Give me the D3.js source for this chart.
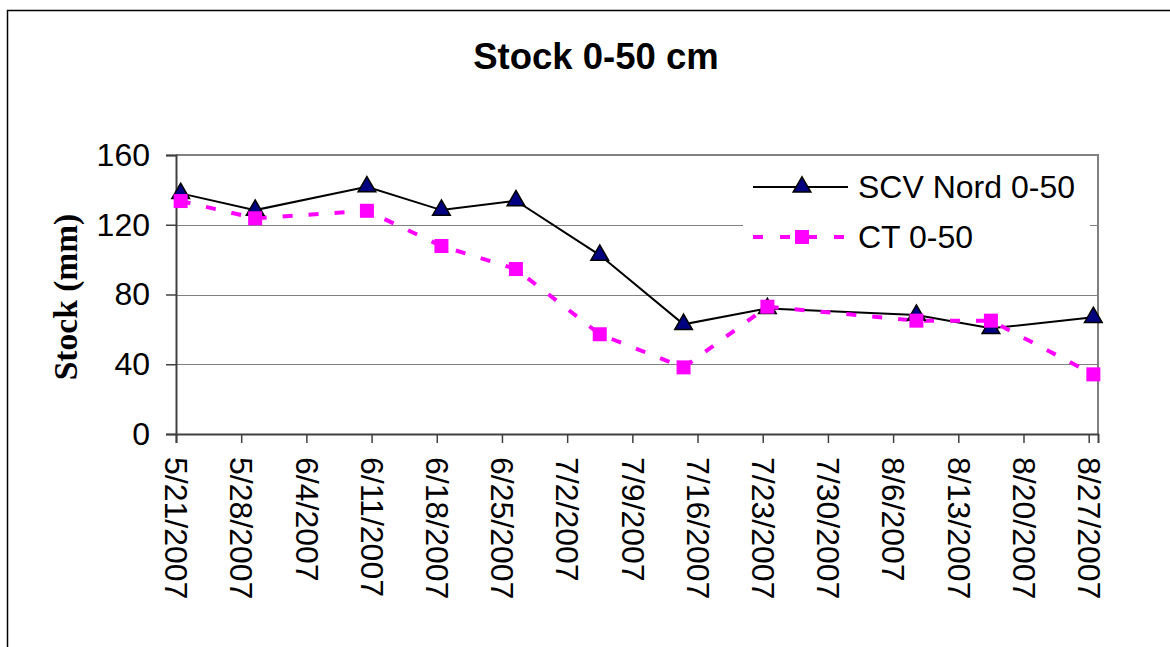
<!DOCTYPE html>
<html>
<head>
<meta charset="utf-8">
<script src="https://cdn.jsdelivr.net/npm/d3@7"></script>
<style>
  html, body { margin: 0; padding: 0; background: #fff; }
  svg { display: block; }
</style>
</head>
<body>
<svg id="chart" width="1170" height="647"></svg>
<script>
// ---- data ----
const titleText = "Stock 0-50 cm";
const yLabelText = "Stock (mm)";
const sampleDates = ["5/21/2007","5/29/2007","6/10/2007","6/18/2007","6/26/2007","7/5/2007","7/14/2007","7/23/2007","8/8/2007","8/16/2007","8/27/2007"];
const scvValues = [138, 128.4, 141.8, 128.4, 133.8, 102.6, 62.9, 72, 68.2, 60.6, 66.9];
const ctValues  = [133.6, 123.7, 128, 107.8, 94.6, 57.2, 38.2, 73, 65, 65, 34.2];
const seriesNames = ["SCV Nord 0-50", "CT 0-50"];
const xTickLabels = ["5/21/2007","5/28/2007","6/4/2007","6/11/2007","6/18/2007","6/25/2007","7/2/2007","7/9/2007","7/16/2007","7/23/2007","7/30/2007","8/6/2007","8/13/2007","8/20/2007","8/27/2007"];
const yTicks = [0, 40, 80, 120, 160];
const xDomainLabels = ["5/21/2007", "8/28/2007"];

// ---- helpers ----
const parse = s => { const [m, d, y] = s.split("/").map(Number); return new Date(Date.UTC(y, m - 1, d)); };
const halfDay = 12 * 3600 * 1000;

const svg = d3.select("#chart");
const L = 176, R = 1098, T = 155, B = 434;

const x = d3.scaleUtc().domain(xDomainLabels.map(parse)).range([L, R]);
const y = d3.scaleLinear().domain([0, 160]).range([B, T]);

// outer border (top + left)
svg.append("path").attr("d", "M7.5,647 L7.5,10.5 L1170,10.5")
  .attr("fill", "none").attr("stroke", "#000").attr("stroke-width", 1.5);

// title
svg.append("text").attr("x", 596).attr("y", 69)
  .attr("text-anchor", "middle")
  .attr("font-family", "Liberation Sans, Arial, sans-serif")
  .attr("font-weight", "bold").attr("font-size", 36.5)
  .text(titleText);

// gridlines
svg.append("g").selectAll("line").data(yTicks.filter(d => d > 0 && d < 160)).join("line")
  .attr("x1", L).attr("x2", R).attr("y1", d => Math.round(y(d)) + 0.5).attr("y2", d => Math.round(y(d)) + 0.5)
  .attr("stroke", "#808080").attr("stroke-width", 1);

// plot border top/right
svg.append("path").attr("d", `M${L},${T} L${R},${T} L${R},${B}`)
  .attr("fill", "none").attr("stroke", "#808080").attr("stroke-width", 2);

// y axis
const yAxis = d3.axisLeft(y).tickValues(yTicks).tickSize(10).tickPadding(16).tickFormat(d3.format("d"));
const gy = svg.append("g").attr("transform", `translate(${L},0)`).call(yAxis);
gy.select(".domain").attr("stroke", "#404040").attr("stroke-width", 2);
gy.selectAll(".tick line").attr("stroke", "#404040").attr("stroke-width", 1.5);
gy.selectAll("text").attr("font-family", "Liberation Sans, Arial, sans-serif")
  .attr("font-size", 32).attr("fill", "#000");

// x axis
const xAxis = d3.axisBottom(x).tickValues(xTickLabels.map(parse)).tickSize(9)
  .tickFormat((d, i) => xTickLabels[i]);
const gx = svg.append("g").attr("transform", `translate(0,${B})`).call(xAxis);
gx.select(".domain").attr("stroke", "#404040").attr("stroke-width", 2);
gx.selectAll(".tick line").attr("stroke", "#404040").attr("stroke-width", 1.5);
gx.selectAll("text")
  .attr("font-family", "Liberation Sans, Arial, sans-serif").attr("font-size", 32).attr("fill", "#000")
  .attr("text-anchor", "start").attr("x", 0).attr("y", 0).attr("dy", "0.35em")
  .attr("transform", "translate(0,23) rotate(90)");

// y label
svg.append("text").attr("transform", "translate(65,297) rotate(-90)")
  .attr("text-anchor", "middle").attr("dy", "0.35em")
  .attr("font-family", "Liberation Serif, Times New Roman, serif")
  .attr("font-weight", "bold").attr("font-size", 33.5)
  .text(yLabelText);

// data
const scvData = sampleDates.map((d, i) => ({ t: new Date(parse(d).getTime() + halfDay), v: scvValues[i] }));
const ctData  = sampleDates.map((d, i) => ({ t: new Date(parse(d).getTime() + halfDay), v: ctValues[i] }));
const line = d3.line().x(d => x(d.t)).y(d => y(d.v));

// legend background
svg.append("rect").attr("x", 743).attr("y", 160).attr("width", 347).attr("height", 104).attr("fill", "#fff");

// SCV line
svg.append("path").datum(scvData).attr("d", line)
  .attr("fill", "none").attr("stroke", "#000").attr("stroke-width", 2);
// CT line
svg.append("path").datum(ctData).attr("d", line)
  .attr("fill", "none").attr("stroke", "#FF00FF").attr("stroke-width", 4)
  .attr("stroke-dasharray", "10,16");

const tri = d3.symbol().type(d3.symbolTriangle).size(135);
const sq = 14;

svg.append("g").selectAll("path").data(scvData).join("path")
  .attr("d", tri).attr("transform", d => `translate(${x(d.t)},${y(d.v)})`)
  .attr("fill", "#000080").attr("stroke", "#000").attr("stroke-width", 1.5);

svg.append("g").selectAll("rect").data(ctData).join("rect")
  .attr("x", d => x(d.t) - sq / 2).attr("y", d => y(d.v) - sq / 2)
  .attr("width", sq).attr("height", sq).attr("fill", "#FF00FF");

// legend
const lg = svg.append("g");
const rows = [187, 237];
lg.append("line").attr("x1", 753).attr("x2", 848).attr("y1", rows[0]).attr("y2", rows[0])
  .attr("stroke", "#000").attr("stroke-width", 2);
lg.append("path").attr("d", tri).attr("transform", `translate(802,${rows[0]})`)
  .attr("fill", "#000080").attr("stroke", "#000").attr("stroke-width", 1.5);
lg.append("line").attr("x1", 753).attr("x2", 848).attr("y1", rows[1]).attr("y2", rows[1])
  .attr("stroke", "#FF00FF").attr("stroke-width", 4).attr("stroke-dasharray", "10,17");
lg.append("rect").attr("x", 802 - sq / 2).attr("y", rows[1] - sq / 2).attr("width", sq).attr("height", sq)
  .attr("fill", "#FF00FF");
lg.selectAll("text").data(seriesNames).join("text")
  .attr("x", 858).attr("y", (d, i) => rows[i]).attr("dy", "0.35em")
  .attr("font-family", "Liberation Sans, Arial, sans-serif").attr("font-size", 32)
  .text(d => d);
</script>
</body>
</html>
